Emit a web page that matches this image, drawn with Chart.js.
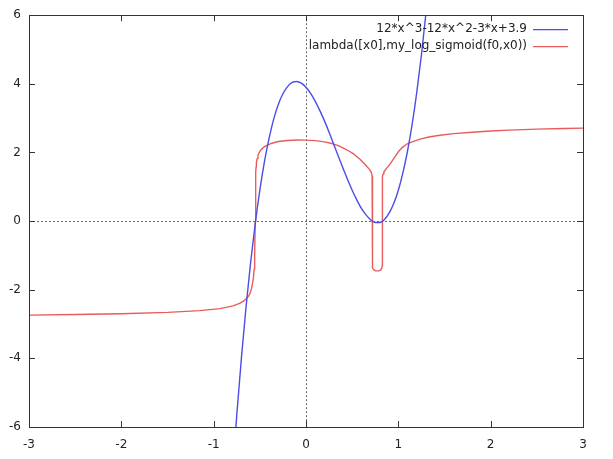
<!DOCTYPE html>
<html>
<head>
<meta charset="utf-8">
<script src="https://cdn.jsdelivr.net/npm/chart.js@4.4.1/dist/chart.umd.min.js"></script>
<style>
  html, body { margin: 0; padding: 0; background: #fff; }
  #wrap { width: 613px; height: 459px; }
</style>
</head>
<body>
<div id="wrap"><canvas id="myChart" width="613" height="459"></canvas></div>
<script>
// --- datos ---
const polyLabel = '12*x^3-12*x^2-3*x+3.9';
const sigLabel = 'lambda([x0],my_log_sigmoid(f0,x0))';

const polyX = [-0.8, -0.75, -0.7, -0.65, -0.6, -0.55, -0.5, -0.45, -0.4, -0.35, -0.3, -0.25, -0.2, -0.15, -0.1, -0.05,
  0, 0.05, 0.1, 0.15, 0.2, 0.25, 0.3, 0.35, 0.4, 0.45, 0.5, 0.55, 0.6, 0.65, 0.7, 0.75, 0.8, 0.85, 0.9, 0.95,
  1.0, 1.05, 1.1, 1.15, 1.2, 1.25, 1.3, 1.35];
const polyY = [-7.52, -5.66, -4.0, -2.52, -1.21, -0.08, 0.9, 1.73, 2.41, 2.97, 3.4, 3.71, 3.92, 4.04, 4.07, 4.02,
  3.9, 3.72, 3.49, 3.22, 2.92, 2.59, 2.24, 1.89, 1.55, 1.21, 0.9, 0.62, 0.37, 0.18, 0.04, -0.04, -0.04, 0.05, 0.23, 0.51,
  0.9, 1.41, 2.05, 2.83, 3.76, 4.84, 6.08, 7.5];

const sigX = [-3.0, -2.5, -2.0, -1.5, -1.15, -0.93, -0.79, -0.72, -0.68, -0.65, -0.625, -0.605, -0.59, -0.578, -0.57,
  -0.562, -0.556, -0.55, -0.546, -0.544, -0.541, -0.537, -0.53, -0.52, -0.508, -0.49, -0.465, -0.43, -0.38, -0.3, -0.2, -0.1,
  0.0, 0.1, 0.2, 0.28, 0.35, 0.41, 0.46, 0.52, 0.585, 0.64, 0.69, 0.703, 0.712, 0.716, 0.718, 0.718, 0.72, 0.725, 0.735,
  0.75, 0.772, 0.795, 0.81, 0.82, 0.825, 0.827, 0.827, 0.829, 0.834, 0.843, 0.87, 0.91, 0.95, 1.0, 1.04, 1.09, 1.15, 1.235,
  1.33, 1.45, 1.6, 1.8, 2.0, 2.2, 2.5, 2.8, 3.0];
const sigY = [-2.74, -2.72, -2.70, -2.66, -2.61, -2.55, -2.47, -2.40, -2.34, -2.27, -2.2, -2.1, -1.96, -1.8, -1.67,
  -1.4, -1.0, 0, 1.0, 1.4, 1.58, 1.7, 1.82, 1.92, 1.99, 2.07, 2.14, 2.2, 2.26, 2.32, 2.35, 2.365,
  2.36, 2.345, 2.31, 2.26, 2.2, 2.12, 2.05, 1.95, 1.8, 1.65, 1.5, 1.44, 1.38, 1.31, 1.2, -1.2, -1.3, -1.37, -1.42,
  -1.445, -1.45, -1.445, -1.42, -1.37, -1.3, -1.2, 1.2, 1.3, 1.37, 1.43, 1.53, 1.66, 1.82, 2.02, 2.14, 2.24, 2.31, 2.39,
  2.45, 2.5, 2.55, 2.59, 2.625, 2.65, 2.68, 2.70, 2.71];

const xTicks = [-3, -2, -1, 0, 1, 2, 3];
const yTicks = [-6, -4, -2, 0, 2, 4, 6];

const blueColor = '#4c4ce6';
const redColor = '#e85c5c';
const frameColor = '#333';
const fontFam = '"DejaVu Sans", sans-serif';

// --- plugin estilo gnuplot: marco, ticks hacia adentro, ejes cero y leyenda ---
const gnuplotFrame = {
  id: 'gnuplotFrame',
  beforeDatasetsDraw(chart) {
    const { ctx, chartArea: a, scales } = chart;
    const x0 = scales.x.getPixelForValue(0);
    const y0 = scales.y.getPixelForValue(0);
    ctx.save();
    ctx.strokeStyle = '#666';
    ctx.lineWidth = 1;
    ctx.setLineDash([2, 2]);
    ctx.beginPath();
    ctx.moveTo(a.left, Math.round(y0) + 0.5);
    ctx.lineTo(a.right, Math.round(y0) + 0.5);
    ctx.moveTo(Math.round(x0) + 0.5, a.top);
    ctx.lineTo(Math.round(x0) + 0.5, a.bottom);
    ctx.stroke();
    ctx.restore();
  },
  afterDatasetsDraw(chart) {
    const { ctx, chartArea: a, scales } = chart;
    const tl = 6;
    ctx.save();
    ctx.strokeStyle = frameColor;
    ctx.lineWidth = 1;
    ctx.beginPath();
    xTicks.forEach(v => {
      const p = Math.round(scales.x.getPixelForValue(v)) + 0.5;
      ctx.moveTo(p, a.bottom); ctx.lineTo(p, a.bottom - tl);
      ctx.moveTo(p, a.top); ctx.lineTo(p, a.top + tl);
    });
    yTicks.forEach(v => {
      const p = Math.round(scales.y.getPixelForValue(v)) + 0.5;
      ctx.moveTo(a.left, p); ctx.lineTo(a.left + tl, p);
      ctx.moveTo(a.right, p); ctx.lineTo(a.right - tl, p);
    });
    ctx.stroke();
    ctx.strokeRect(Math.round(a.left) + 0.5, Math.round(a.top) + 0.5,
      Math.round(a.right - a.left), Math.round(a.bottom - a.top));

    // leyenda
    ctx.font = '12px ' + fontFam;
    ctx.textAlign = 'right';
    ctx.textBaseline = 'middle';
    chart.data.datasets.forEach((ds, i) => {
      const y = a.top + 14 + i * 17;
      ctx.fillStyle = '#222';
      ctx.fillText(ds.label, a.right - 56, y);
      ctx.strokeStyle = ds.borderColor;
      ctx.lineWidth = 1.3;
      ctx.beginPath();
      ctx.moveTo(a.right - 50, y + 0.5);
      ctx.lineTo(a.right - 15, y + 0.5);
      ctx.stroke();
    });
    ctx.restore();
  }
};

const ctx = document.getElementById('myChart').getContext('2d');
new Chart(ctx, {
  type: 'line',
  data: {
    datasets: [{
      label: polyLabel,
      data: polyX.map((x, i) => ({ x, y: polyY[i] })),
      borderColor: blueColor,
      borderWidth: 1.4,
      pointRadius: 0,
      cubicInterpolationMode: 'monotone'
    }, {
      label: sigLabel,
      data: sigX.map((x, i) => ({ x, y: sigY[i] })),
      borderColor: redColor,
      borderWidth: 1.4,
      borderJoinStyle: 'round',
      pointRadius: 0,
      tension: 0
    }]
  },
  options: {
    responsive: false,
    animation: false,
    layout: { padding: { top: 12, right: 30, left: 0, bottom: 0 } },
    scales: {
      x: {
        type: 'linear', min: -3, max: 3,
        afterFit: s => { s.height = 32; },
        afterBuildTicks: s => { s.ticks = xTicks.map(v => ({ value: v })); },
        grid: { display: false, drawTicks: false },
        border: { display: false },
        ticks: { color: '#222', padding: 11, font: { family: fontFam, size: 12 } }
      },
      y: {
        min: -6, max: 6,
        afterFit: s => { s.width = 29; },
        afterBuildTicks: s => { s.ticks = yTicks.map(v => ({ value: v })); },
        grid: { display: false, drawTicks: false },
        border: { display: false },
        ticks: { color: '#222', padding: 8, font: { family: fontFam, size: 12 } }
      }
    },
    plugins: {
      legend: { display: false },
      tooltip: { enabled: false }
    }
  },
  plugins: [gnuplotFrame]
});
</script>
</body>
</html>
